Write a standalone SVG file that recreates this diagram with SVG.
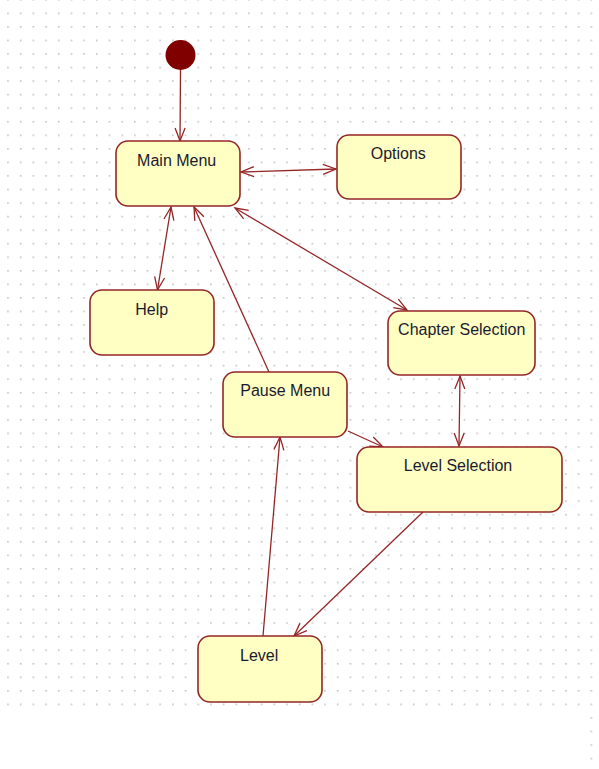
<svg xmlns="http://www.w3.org/2000/svg" width="599" height="769" viewBox="0 0 599 769">
<style>
.node rect{fill:#ffffc4;stroke:#952626;stroke-width:1.6}
.node text{font-family:"Liberation Sans",Arial,sans-serif;font-size:16px;fill:#1a1a2e;text-anchor:middle}
.conn line{stroke:#952626;stroke-width:1.3;fill:none}
</style>
<defs>
<pattern id="grid" patternUnits="userSpaceOnUse" x="7.2" y="12.5" width="12.68" height="13.55">
<rect x="0" y="0" width="1.6" height="1.6" fill="#c2c2c2"/>
</pattern>
<marker id="arr" markerUnits="userSpaceOnUse" markerWidth="20" markerHeight="20" refX="0" refY="0" orient="auto-start-reverse" overflow="visible">
<path d="M-13,-5 L0,0 L-13,5" fill="none" stroke="#952626" stroke-width="1.3"/>
</marker>
</defs>
<rect x="0" y="0" width="599" height="712" fill="url(#grid)"/>
<rect x="585" y="712" width="10" height="57" fill="url(#grid)"/>
<g id="initial"><circle cx="180.5" cy="55" r="15" fill="#800000"/></g>
<g id="connectors" class="conn">
<line x1="180.5" y1="70" x2="180" y2="141" marker-end="url(#arr)"/>
<line x1="241" y1="172" x2="336" y2="169" marker-start="url(#arr)" marker-end="url(#arr)"/>
<line x1="171" y1="207" x2="157.5" y2="290" marker-start="url(#arr)" marker-end="url(#arr)"/>
<line x1="269" y1="372" x2="194" y2="207" marker-end="url(#arr)"/>
<line x1="235" y1="208" x2="407" y2="310" marker-start="url(#arr)" marker-end="url(#arr)"/>
<line x1="460" y1="376" x2="459" y2="446" marker-start="url(#arr)" marker-end="url(#arr)"/>
<line x1="348" y1="431" x2="383" y2="447" marker-end="url(#arr)"/>
<line x1="263" y1="636" x2="280" y2="437" marker-end="url(#arr)"/>
<line x1="423" y1="512" x2="294" y2="636" marker-end="url(#arr)"/>
</g>
<g id="main-menu" class="node"><rect x="116" y="141" width="124" height="65" rx="12"/><text x="176.7" y="166">Main Menu</text></g>
<g id="options" class="node"><rect x="337" y="135" width="124" height="64" rx="12"/><text x="398.3" y="159">Options</text></g>
<g id="help" class="node"><rect x="90" y="290" width="124" height="65" rx="12"/><text x="151.7" y="315">Help</text></g>
<g id="chapter-selection" class="node"><rect x="388" y="311" width="147" height="64" rx="12"/><text x="461.7" y="335">Chapter Selection</text></g>
<g id="pause-menu" class="node"><rect x="223" y="372" width="124" height="65" rx="12"/><text x="285.2" y="396">Pause Menu</text></g>
<g id="level-selection" class="node"><rect x="357" y="447" width="205" height="65" rx="12"/><text x="458" y="471">Level Selection</text></g>
<g id="level" class="node"><rect x="198" y="636" width="124" height="66" rx="12"/><text x="259.2" y="661">Level</text></g>
</svg>
